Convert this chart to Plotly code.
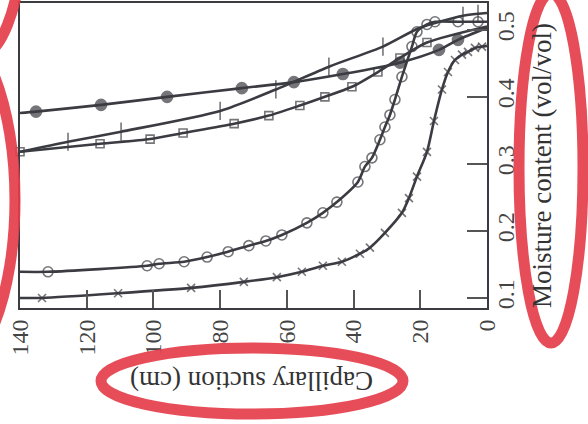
import plotly.graph_objects as go

# ---- data (capillary suction in cm, moisture content vol/vol) ----
filled_suction = [140, 135.2, 115.7, 95.9, 73.5, 57.9, 43.2, 26.1, 14.4, 8.7, 0]
filled_moist = [0.376, 0.378, 0.388, 0.400, 0.413, 0.422, 0.434, 0.451, 0.470, 0.485, 0.503]
filled_marks = [1, 2, 3, 4, 5, 6, 7, 8, 9]

plus_suction = [140, 125.6, 109.7, 80.0, 63.3, 47.4, 31.2, 20.1, 7.2, 2.7, 0]
plus_moist = [0.318, 0.333, 0.348, 0.379, 0.411, 0.445, 0.475, 0.503, 0.521, 0.524, 0.525]
plus_marks = [1, 2, 3, 4, 5, 6, 8, 9]

square_suction = [140, 116.0, 101.0, 91.1, 75.8, 65.4, 56.1, 48.6, 40.5, 32.7, 26.1, 18.0, 0]
square_moist = [0.318, 0.330, 0.337, 0.346, 0.360, 0.372, 0.387, 0.400, 0.415, 0.437, 0.458, 0.481, 0.505]
square_marks = list(range(12))

circle_suction = [140, 131.6, 101.9, 98.3, 90.8, 83.9, 77.6, 71.4, 66.3, 61.5, 54.0, 49.2, 45.0,
                  38.7, 36.6, 34.5, 32.1, 30.6, 29.1, 27.6, 25.5, 22.5, 21.0, 18.0, 15.6, 8.7, 2.7, 0]
circle_moist = [0.139, 0.139, 0.148, 0.151, 0.154, 0.161, 0.169, 0.178, 0.185, 0.194, 0.212, 0.227, 0.243,
                0.273, 0.296, 0.309, 0.336, 0.355, 0.373, 0.396, 0.430, 0.475, 0.497, 0.508, 0.512, 0.512, 0.512, 0.512]
circle_marks = list(range(1, 27))

cross_suction = [140, 133.4, 110.6, 88.7, 72.9, 63.0, 55.5, 49.2, 43.5, 38.1, 35.1, 30.6, 25.5, 23.4,
                 21.0, 18.0, 15.9, 13.5, 11.7, 9.6, 7.5, 5.7, 3.6, 1.5, 0]
cross_moist = [0.100, 0.100, 0.107, 0.115, 0.124, 0.131, 0.139, 0.148, 0.154, 0.166, 0.175, 0.197, 0.227, 0.249,
               0.281, 0.318, 0.364, 0.411, 0.437, 0.455, 0.463, 0.467, 0.473, 0.475, 0.476]
cross_marks = list(range(1, 24))

x_ticks = [0, 20, 40, 60, 80, 100, 120, 140]
y_ticks = [0.1, 0.2, 0.3, 0.4, 0.5]

INK = "#3b3b42"
RED = "rgba(228,62,74,0.92)"
FONT = "Liberation Serif"

fig = go.Figure()


def add_series(xs, ys, marks, symbol, size, lw=1.6):
    sizes = [size if i in marks else 0 for i in range(len(xs))]
    fig.add_trace(go.Scatter(
        x=xs, y=ys, mode="lines",
        line=dict(color=INK, width=2.6, shape="spline", smoothing=0.7),
        showlegend=False, hoverinfo="skip"))
    fig.add_trace(go.Scatter(
        x=xs, y=ys, mode="markers",
        marker=dict(symbol=symbol, size=sizes, color=INK,
                    line=dict(color=INK, width=lw)),
        showlegend=False, cliponaxis=False))


add_series(filled_suction, filled_moist, filled_marks, "circle", 11)
add_series(plus_suction, plus_moist, plus_marks, "line-ns-open", 13, lw=1.6)
add_series(square_suction, square_moist, square_marks, "square-open", 8)
add_series(circle_suction, circle_moist, circle_marks, "circle-open", 10)
add_series(cross_suction, cross_moist, cross_marks, "x-thin-open", 8, lw=1.6)

W, H = 588, 424
L, R, T, B = 20, 487, 3, 308


def px(x):
    return (x - L) / (R - L)


def py(y):
    return (B - y) / (B - T)


def ellipse(cx, cy, rx, ry, w=11):
    return dict(type="circle", xref="paper", yref="paper",
                x0=px(cx - rx), x1=px(cx + rx), y0=py(cy + ry), y1=py(cy - ry),
                line=dict(color=RED, width=w), layer="above")


fig.update_layout(
    width=W, height=H,
    margin=dict(l=L, r=W - R, t=T, b=H - B, pad=0, autoexpand=False),
    paper_bgcolor="white", plot_bgcolor="white",
    font=dict(family=FONT, color="#444", size=24),
    xaxis=dict(range=[140, 0], tickvals=x_ticks, ticks="inside", ticklen=18, tickwidth=1.5,
               tickcolor="#555", tickangle=-90, showline=True, linecolor=INK, linewidth=2,
               mirror=True, showgrid=False, zeroline=False, automargin=False,
               tickfont=dict(family=FONT, size=24, color="#444")),
    yaxis=dict(range=[0.085, 0.540], side="right", tickvals=y_ticks, tickformat=".1f",
               ticks="inside", ticklen=20, tickwidth=1.5, tickcolor="#555", tickangle=-90,
               ticklabelstandoff=-4, automargin=False,
               showline=True, linecolor=INK, linewidth=2, mirror=True, showgrid=False,
               zeroline=False, tickfont=dict(family=FONT, size=24, color="#444")),
    annotations=[
        dict(text="Capillary suction (cm)", xref="paper", yref="paper",
             x=px(252), y=py(381), xanchor="center", yanchor="middle",
             textangle=180, showarrow=False,
             font=dict(family=FONT, size=27, color="#333")),
        dict(text="Moisture content (vol/vol)", xref="paper", yref="paper",
             x=px(542), y=py(166), xanchor="center", yanchor="middle",
             textangle=-90, showarrow=False,
             font=dict(family=FONT, size=27, color="#333")),
    ],
    shapes=[
        ellipse(252, 381, 151, 33),
        ellipse(551, 168, 32, 175),
        ellipse(-60, 200, 75, 180),
        ellipse(-26.5, -60, 48, 120),
    ],
)

fig.write_html("out.html", config={"displayModeBar": False},
               post_script="document.body.style.margin='0px';document.body.style.overflow='hidden';")
